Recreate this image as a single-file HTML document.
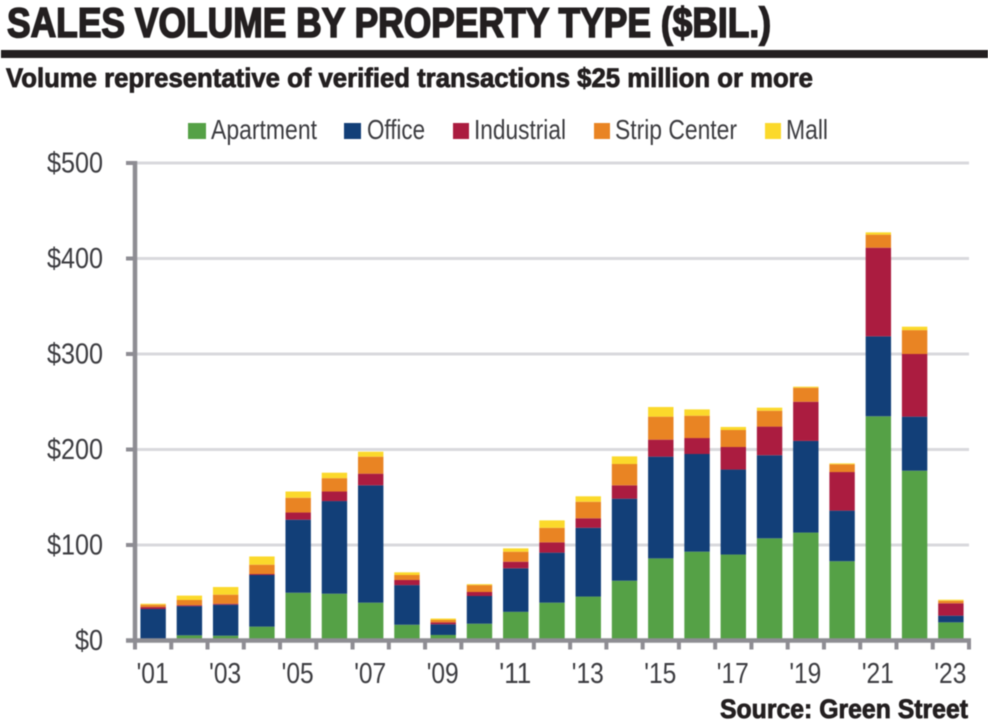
<!DOCTYPE html>
<html lang="en">
<head>
<meta charset="utf-8">
<title>Sales Volume by Property Type</title>
<style>
html,body{margin:0;padding:0;background:#fff;width:988px;height:727px;overflow:hidden}
svg{display:block;filter:blur(0.5px)}
text{font-family:"Liberation Sans",Arial,sans-serif}
.h{font-weight:700;fill:#231f20;stroke:#231f20}
.l{fill:#3c3c40}
</style>
</head>
<body>
<svg id="chart" width="988" height="727" viewBox="0 0 988 727" xmlns="http://www.w3.org/2000/svg">
  <rect x="0" y="0" width="988" height="727" fill="#fff"/>
  <text class="h" x="7" y="37" font-size="42" stroke-width="1.6" textLength="764" lengthAdjust="spacingAndGlyphs">SALES VOLUME BY PROPERTY TYPE ($BIL.)</text>
  <rect x="1" y="50" width="987" height="8" fill="#231f20"/>
  <text class="h" x="6" y="87" font-size="27" stroke-width="0.8" textLength="807" lengthAdjust="spacingAndGlyphs">Volume representative of verified transactions $25 million or more</text>

  <g>
    <g>
      <rect x="188" y="123" width="18" height="16" fill="#55a146"/>
      <text class="l" x="211" y="139" font-size="27.5" textLength="106" lengthAdjust="spacingAndGlyphs">Apartment</text>
    </g>
    <g>
      <rect x="344" y="123" width="17" height="16" fill="#123f78"/>
      <text class="l" x="367" y="139" font-size="27.5" textLength="58" lengthAdjust="spacingAndGlyphs">Office</text>
    </g>
    <g>
      <rect x="453" y="123" width="16" height="16" fill="#ab1c40"/>
      <text class="l" x="474" y="139" font-size="27.5" textLength="92" lengthAdjust="spacingAndGlyphs">Industrial</text>
    </g>
    <g>
      <rect x="594" y="123" width="16" height="16" fill="#e98423"/>
      <text class="l" x="615" y="139" font-size="27.5" textLength="122" lengthAdjust="spacingAndGlyphs">Strip Center</text>
    </g>
    <g>
      <rect x="765" y="123" width="16" height="16" fill="#fbd92b"/>
      <text class="l" x="786" y="139" font-size="27.5" textLength="42" lengthAdjust="spacingAndGlyphs">Mall</text>
    </g>
  </g>

  <g id="grid"></g>
  <g id="bars"></g>
  <g id="axes"></g>

  <text class="h" x="720" y="718" font-size="27" stroke-width="0.8" textLength="248" lengthAdjust="spacingAndGlyphs">Source: Green Street</text>
</svg>
<script>
const years = ['2001','2002','2003','2004','2005','2006','2007','2008','2009','2010','2011','2012','2013','2014','2015','2016','2017','2018','2019','2020','2021','2022','2023'];
const apartment = [0.5,5.4,5,14.5,50,49,39.6,16.5,5.8,17.6,30,39.6,46,62.6,86,93,90,107,113,83,234.8,177.8,19];
const office = [32.5,30.6,32.5,54.1,76.5,97,122.9,41.5,11.2,29,45.6,52.4,72,85.9,106.5,102.3,89,87,96,53,83.7,56.6,7];
const industrial = [2,1,1,1,7.5,10,12.2,5.4,2,4.2,6.9,10.8,10,14,17.8,16.7,23.6,30,41,40.4,92.8,65.6,13];
const stripCenter = [2.5,5.4,9.5,9.8,15.5,14,17.8,5.2,2.5,7.2,10.5,15.2,17.3,22.3,24.1,23.4,17.8,16.6,14.7,8.1,13.7,25,2.6];
const mall = [1,4.6,8,8.6,6.5,5.7,5.2,2.8,1.5,1,3.5,7.8,5.7,8,10.1,6.6,3.2,3.2,1.1,1,2.4,3.6,1.1];
const yTickValues = [0,100,200,300,400,500];
const yTickLabels = ['$0','$100','$200','$300','$400','$500'];
const xTickLabels = ["'01","'03","'05","'07","'09","'11","'13","'15","'17","'19","'21","'23"];

const NS = 'http://www.w3.org/2000/svg';
const plotLeft = 135, plotRight = 969, plotBottom = 640.5, plotTop = 163, yMax = 500;
const step = (plotRight - plotLeft) / years.length;
const barWidth = 25.4;
const seriesList = [
  {name: 'apartment', values: apartment, color: '#55a146'},
  {name: 'office', values: office, color: '#123f78'},
  {name: 'industrial', values: industrial, color: '#ab1c40'},
  {name: 'strip-center', values: stripCenter, color: '#e98423'},
  {name: 'mall', values: mall, color: '#fbd92b'}
];
function yScale(v){ return plotBottom - (v / yMax) * (plotBottom - plotTop); }
function xBand(i){ return plotLeft + step * i; }
function make(tag, attrs, parent){
  const el = document.createElementNS(NS, tag);
  for (const k in attrs) el.setAttribute(k, attrs[k]);
  parent.appendChild(el);
  return el;
}
const gridG = document.getElementById('grid');
const barsG = document.getElementById('bars');
const axesG = document.getElementById('axes');

yTickValues.forEach(function(v, i){
  if (v > 0) {
    const line = make('line', {x1: plotLeft, x2: plotRight, y1: yScale(v), y2: yScale(v), stroke: '#d9d9dd', 'stroke-width': 3}, gridG);
    
    
  }
  const tick = make('line', {x1: plotLeft - 9, x2: plotLeft, y1: yScale(v), y2: yScale(v), stroke: '#8e8d93', 'stroke-width': 4}, axesG);
  
  
  const label = make('text', {x: 103, y: yScale(v) + 9.5, 'text-anchor': 'end', 'font-size': 28.5, 'class': 'l', textLength: yTickLabels[i].length * 14, lengthAdjust: 'spacingAndGlyphs'}, axesG);
  label.textContent = yTickLabels[i];
  
  
});

years.forEach(function(year, i){
  let total = 0;
  const cx = xBand(i) + step / 2;
  seriesList.forEach(function(s){
    const v = s.values[i];
    const y1 = yScale(total + v);
    const y0 = yScale(total);
    const r = make('rect', {x: cx - barWidth / 2, y: y1, width: barWidth, height: Math.max(0, y0 - y1), fill: s.color}, barsG);
    
    
    total += v;
  });
});

const yAxis = make('line', {x1: plotLeft, x2: plotLeft, y1: plotTop - 2, y2: plotBottom + 2, stroke: '#8e8d93', 'stroke-width': 4.5}, axesG);


const xAxis = make('line', {x1: plotLeft - 9, x2: plotRight + 2, y1: plotBottom, y2: plotBottom, stroke: '#8e8d93', 'stroke-width': 4.5}, axesG);



for (let i = 0; i <= years.length; i++) {
  const t = make('line', {x1: xBand(i), x2: xBand(i), y1: plotBottom, y2: 649.5, stroke: '#8e8d93', 'stroke-width': 4}, axesG);
  
  
}
xTickLabels.forEach(function(lab, i){
  const cx = xBand(i * 2) + step / 2 - 0.5;
  const t = make('text', {x: cx, y: 683, 'text-anchor': 'middle', 'font-size': 28.5, 'class': 'l', textLength: 32, lengthAdjust: 'spacingAndGlyphs'}, axesG);
  t.textContent = lab;
  
  
});
</script>
</body>
</html>
